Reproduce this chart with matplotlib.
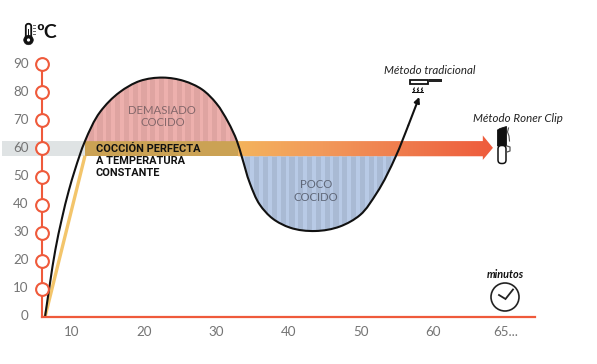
import numpy as np
import matplotlib
matplotlib.use("Agg")
import matplotlib.pyplot as plt
from matplotlib.patches import Circle, Rectangle, Polygon, FancyBboxPatch, PathPatch
from matplotlib.path import Path
from matplotlib.colors import LinearSegmentedColormap

# Data
y_ticks = [0, 10, 20, 30, 40, 50, 60, 70, 80, 90]
x_ticks = [10, 20, 30, 40, 50, 60, 70]
x_labels = ["10", "20", "30", "40", "50", "60", "65..."]
trad_x = [6.26, 6.95, 7.7, 8.6, 9.58, 10.4, 11.8, 13.9, 16.6, 19.4, 22.6,
          25.5, 28.0, 30.0, 31.6, 32.85, 33.5, 34.65, 36.0, 37.8, 40.2, 43.7, 47.1,
          49.9, 52.2, 54.85, 56.6, 58.1]
trad_y = [0, 12, 24, 35, 45.2, 52.3, 62.6, 73, 80, 84, 85.2,
          84, 81, 76, 69.5, 62.6, 57.2, 47.5, 40, 35, 31.8, 30.6, 32.2,
          36.3, 44.1, 57.2, 68.3, 78.3]
roner_x = [6.26, 11.8]
roner_y = [0, 57.4]
band_low, band_high = 57.2, 62.6

RED = "#EF5A3B"
fig = plt.figure(figsize=(5.97, 3.64), dpi=100)
ax = fig.add_axes([0, 0, 1, 1])
XL = (10 - 72 / 7.22, 10 + (597 - 72) / 7.22)
YL = ((317 - 364) / 2.81, 317 / 2.81)
ax.set_xlim(*XL)
ax.set_ylim(*YL)
ax.axis("off")

x = np.array(trad_x)
y = np.array(trad_y)
P = np.column_stack([x, y])

def tangents(P):
    S = P * np.array([7.22, 2.81])
    d = np.linalg.norm(np.diff(S, axis=0), axis=1)
    m = np.zeros_like(P)
    m[0] = (P[1] - P[0]) / d[0]
    m[-1] = (P[-1] - P[-2]) / d[-1]
    for i in range(1, len(P) - 1):
        m[i] = ((P[i] - P[i - 1]) / d[i - 1] * d[i] + (P[i + 1] - P[i]) / d[i] * d[i - 1]) / (d[i] + d[i - 1])
    return m, d

M, D = tangents(P)

def bez(i0, i1):
    verts, codes = [P[i0]], [Path.MOVETO]
    for i in range(i0, i1):
        verts += [P[i] + M[i] * D[i] / 3, P[i + 1] - M[i + 1] * D[i] / 3, P[i + 1]]
        codes += [Path.CURVE4] * 3
    return verts, codes

idx = {"top0": trad_y.index(62.6), "top1": len(trad_y) - 1 - trad_y[::-1].index(62.6),
       "bot0": trad_y.index(57.2), "bot1": len(trad_y) - 1 - trad_y[::-1].index(57.2)}

# grey band and gold band
ax.fill_between([0.3, x[idx["top0"]]], band_low, band_high, color="#DFE3E4", lw=0, zorder=1)
ax.fill_between([x[idx["top0"]], 33.0], band_low, band_high, color="#CBA254", lw=0, zorder=2)

def striped(i0, i1, base, stripe):
    v, c = bez(i0, i1)
    v = v + [P[i0]]
    c = c + [Path.CLOSEPOLY]
    patch = PathPatch(Path(v, c), fc=base, ec="none", zorder=2)
    ax.add_patch(patch)
    for s in np.arange(x[i0], x[i1], 1.22):
        r = ax.axvspan(s, s + 0.5, color=stripe, lw=0, zorder=2.1)
        r.set_clip_path(patch)

striped(idx["top0"], idx["top1"], "#DFA4A1", "#EDB0AD")
striped(idx["bot0"], idx["bot1"], "#A9BAD4", "#B8CAE6")

# gradient arrow
cmap = LinearSegmentedColormap.from_list("g", ["#F4B35C", "#F2995A", "#EF7A4C", "#EE5B3C"])
grad = np.linspace(0, 1, 256).reshape(1, -1)
x_a, x_b, x_h = 33.0, 68.3, 66.9
head = Polygon([(x_a, band_low), (x_a, band_high), (x_h, band_high), (x_h, 64.6),
                (x_b, 60.2), (x_h, 55.9), (x_h, band_low)], closed=True, fc="none", ec="none")
ax.add_patch(head)
im = ax.imshow(grad, extent=[x_a, x_b, 55, 65], aspect="auto", cmap=cmap, zorder=2)
im.set_clip_path(head)
ax.set_xlim(*XL)
ax.set_ylim(*YL)

# constant-temperature ramp
ax.plot(roner_x, roner_y, color="#F3C56B", lw=2.4, zorder=3, solid_capstyle="butt")

# traditional curve
v, c = bez(0, len(P) - 2)
ax.add_patch(PathPatch(Path(v, c), fc="none", ec="#111111", lw=1.5, zorder=4))
ax.annotate("", xy=(x[-1], y[-1]), xytext=(x[-2], y[-2]),
            arrowprops=dict(arrowstyle="-|>,head_width=0.16,head_length=0.32", color="#111111", lw=1.5,
                            shrinkA=0, shrinkB=0), zorder=4)

# axes
ax.plot([5.9, 5.9], [0, 90], color=RED, lw=1.5, zorder=2.5)
ax.plot([5.9, 74.1], [0, 0], color=RED, lw=1.6, zorder=5)
ax.plot([5.9] * 9, y_ticks[1:], ls="none", marker="o", ms=9.2, mfc="white", mec=RED, mew=1.5, zorder=6)

GREY = "#747474"
for v_ in y_ticks:
    ax.text(4.0, v_ + 0.2, str(v_), ha="right", va="center", color=GREY, fontsize=9.6, family="Lato", zorder=7)
for v_, lab in zip(x_ticks, x_labels):
    ax.text(v_, -5.3, lab, ha="center", va="center", color=GREY, fontsize=9.6, family="Lato", zorder=7)

# pixel-space overlay for labels and icons
ov = fig.add_axes([0, 0, 1, 1], facecolor="none")
ov.set_xlim(0, 597)
ov.set_ylim(364, 0)
ov.axis("off")

for t, yy in [("COCCIÓN PERFECTA", 149), ("A TEMPERATURA", 161), ("CONSTANTE", 173)]:
    ov.text(96, yy, t, ha="left", va="center", fontsize=7.9, family="Roboto", fontweight="bold", color="#111111")
ov.text(162, 110, "DEMASIADO", ha="center", va="center", fontsize=8.2, family="Lato", color="#85686B")
ov.text(163, 122, "COCIDO", ha="center", va="center", fontsize=8.2, family="Lato", color="#85686B")
ov.text(316, 185, "POCO", ha="center", va="center", fontsize=8.2, family="Lato", color="#606879")
ov.text(316, 197.5, "COCIDO", ha="center", va="center", fontsize=8.2, family="Lato", color="#606879")
ov.text(429.5, 70, "Método tradicional", ha="center", va="center", fontsize=8.3, style="italic", family="Lato", color="#222222")
ov.text(517.5, 118, "Método Roner Clip", ha="center", va="center", fontsize=8.3, style="italic", family="Lato", color="#222222")
ov.text(505.5, 274, "minutos", ha="center", va="center", fontsize=7.8, style="italic", fontweight="bold", family="Lato", color="#111111")
ov.text(46.5, 32, "ºC", ha="center", va="center", fontsize=14, fontweight="bold", family="Lato", color="#111111")

# clock icon
ov.add_patch(Circle((505, 297), 14, fc="white", ec="#222222", lw=1.2))
ov.plot([499, 505.5, 513], [295, 299, 289.5], color="#222222", lw=1.3, solid_joinstyle="miter")

# thermometer icon
ov.add_patch(FancyBboxPatch((27, 25), 3, 13, boxstyle="round,pad=1.2,rounding_size=2.5", fc="white", ec="#111111", lw=1.3))
ov.add_patch(Circle((28.5, 40), 4.8, fc="#111111", ec="#111111", lw=0.4))
ov.add_patch(Rectangle((27.7, 29), 1.6, 10, fc="#111111", ec="none"))
ov.add_patch(Circle((28.5, 40), 1.6, fc="white", ec="none"))
for yy in (25, 28, 31, 34):
    ov.plot([32.5, 34.5], [yy, yy], color="#666666", lw=0.7)

# pan icon
ov.add_patch(Rectangle((409.5, 79.5), 18, 4.5, fc="white", ec="#111111", lw=1.3))
ov.add_patch(Rectangle((429, 78.5), 13, 3.2, fc="#222222", ec="none"))
for xx in (414, 418, 422):
    ov.plot([xx - 0.6, xx + 0.6, xx - 0.6, xx + 0.3], [92, 90.5, 89.5, 88], color="#111111", lw=0.8)
ov.add_patch(Rectangle((412, 91.5), 12, 1.2, fc="#111111", ec="none"))

# immersion circulator icon
ov.add_patch(Polygon([(497.5, 130), (500, 128.5), (506.5, 126.5), (506.5, 146), (497.5, 146)], closed=True, fc="#111111", ec="#111111", lw=0.6))
ov.add_patch(FancyBboxPatch((498.5, 146), 7, 17, boxstyle="round,pad=0.5,rounding_size=3.5", fc="white", ec="#111111", lw=1.1))
ov.plot([508.5, 507.5, 509, 509.5], [128, 132, 136, 141], color="#555555", lw=0.8)
ov.plot([507, 510, 510, 507], [146, 147, 151, 152], color="#555555", lw=0.9)

fig.savefig("out.png", dpi=100)
